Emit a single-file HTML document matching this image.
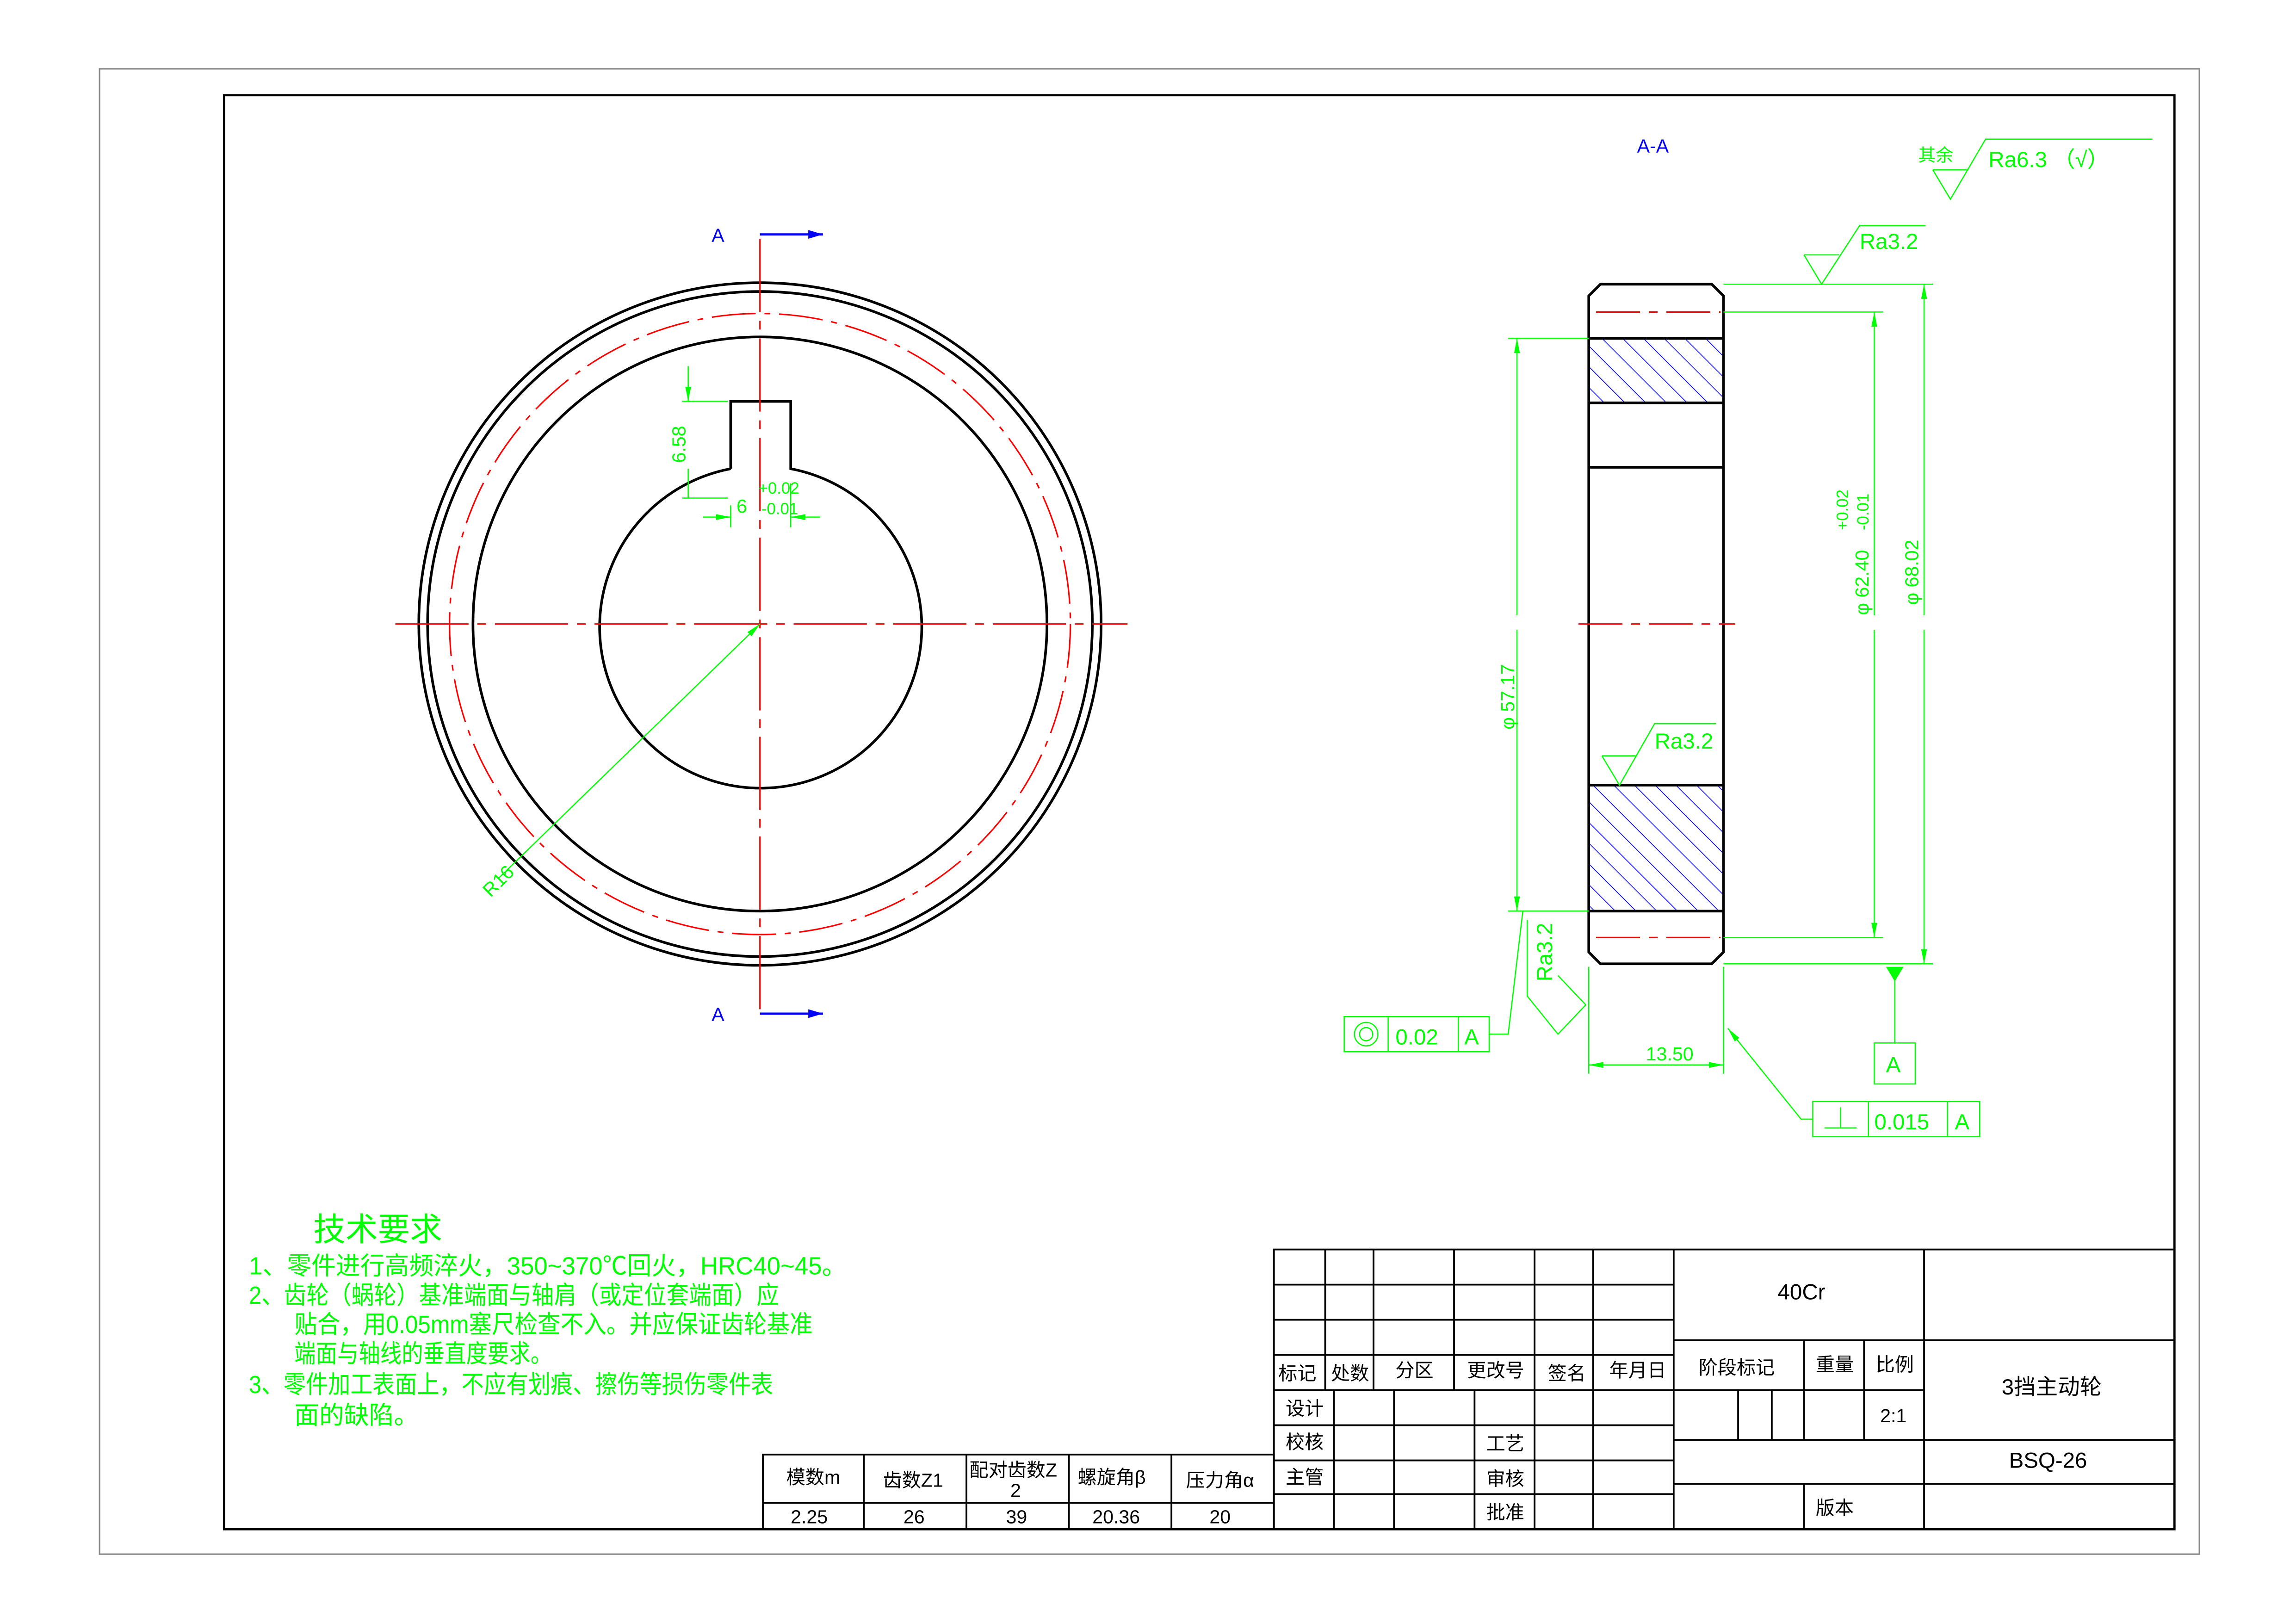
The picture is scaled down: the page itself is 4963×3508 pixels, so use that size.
<!DOCTYPE html>
<html><head><meta charset="utf-8"><style>
html,body{margin:0;padding:0;background:#fff}
svg{display:block}
text{font-family:"Liberation Sans","Noto Sans CJK SC",sans-serif}
</style></head><body>
<svg width="4963" height="3508" viewBox="0 0 1568 1108" preserveAspectRatio="none" xmlns="http://www.w3.org/2000/svg">
<defs>
<pattern id="h" width="10" height="10" patternUnits="userSpaceOnUse" patternTransform="rotate(-45)">
<line x1="0" y1="0" x2="0" y2="10" stroke="#0000ff" stroke-width="1"/></pattern>
<marker id="ab" markerWidth="10" markerHeight="6" refX="10" refY="3" orient="auto" markerUnits="userSpaceOnUse"><path d="M0,0L10,3L0,6z" fill="#0000ff"/></marker>
<marker id="ag" markerWidth="10" markerHeight="4" refX="10" refY="2" orient="auto" markerUnits="userSpaceOnUse"><path d="M0,0L10,2L0,4z" fill="#00ff00"/></marker>
<marker id="ags" markerWidth="10" markerHeight="4" refX="0" refY="2" orient="auto" markerUnits="userSpaceOnUse"><path d="M10,0L0,2L10,4z" fill="#00ff00"/></marker>
</defs>
<rect x="68" y="47" width="1434" height="1014" fill="none" stroke="#888" stroke-width="1"/>
<rect x="153" y="65" width="1332" height="979" fill="none" stroke="#000" stroke-width="1.5"/>

<g fill="none" stroke="#000" stroke-width="1.8">
<circle cx="519" cy="426" r="233"/>
<circle cx="519" cy="426" r="227"/>
<circle cx="519" cy="426" r="196"/>
<path d="M499,320 L499,274 L540,274 L540,320 A110,110 0 1 1 499,320"/>
</g>
<circle cx="519" cy="426" r="212" fill="none" stroke="#ff0000" stroke-width="1" stroke-dasharray="30,6,4,6"/>
<g stroke="#ff0000" stroke-width="1" stroke-dasharray="50,6,6,6">
<line x1="270" y1="426" x2="770" y2="426"/>
<line x1="519" y1="163" x2="519" y2="690"/>
</g>
<g stroke="#0000ff" stroke-width="1.5">
<line x1="519" y1="160" x2="562" y2="160" marker-end="url(#ab)"/>
<line x1="519" y1="692" x2="562" y2="692" marker-end="url(#ab)"/>
</g>
<text x="486" y="165" fill="#0000ff" font-size="13">A</text>
<text x="486" y="697" fill="#0000ff" font-size="13">A</text>
<g stroke="#00ff00" stroke-width="0.8" fill="none">
<line x1="519" y1="426" x2="340" y2="600" marker-start="url(#ags)"/>
<line x1="466" y1="274" x2="497" y2="274"/>
<line x1="466" y1="340" x2="497" y2="340"/>
<line x1="470" y1="250" x2="470" y2="274" marker-end="url(#ag)"/>
<line x1="470" y1="340" x2="470" y2="320"/>
<line x1="499" y1="345" x2="499" y2="360"/>
<line x1="540" y1="330" x2="540" y2="360"/>
<line x1="480" y1="353" x2="499" y2="353" marker-end="url(#ag)"/>
<line x1="560" y1="353" x2="540" y2="353" marker-end="url(#ag)"/>
</g>
<g fill="#00ff00" font-size="13">
<text transform="translate(335,613) rotate(-45)">R16</text>
<text transform="translate(468,316) rotate(-90)">6.58</text>
<text x="503" y="350">6</text>
<text x="518" y="337" font-size="11">+0.02</text>
<text x="520" y="351" font-size="11">-0.01</text>
</g>

<text x="1118" y="104" fill="#0000ff" font-size="13">A-A</text>
<rect x="1085" y="231" width="92" height="44" fill="url(#h)"/>
<rect x="1085" y="536" width="92" height="86" fill="url(#h)"/>
<g fill="none" stroke="#000" stroke-width="1.8">
<path d="M1093,194 L1169,194 L1177,202 L1177,650 L1169,658 L1093,658 L1085,650 L1085,202 Z"/>
<line x1="1085" y1="231" x2="1177" y2="231"/><line x1="1085" y1="275" x2="1177" y2="275"/>
<line x1="1085" y1="319" x2="1177" y2="319"/><line x1="1085" y1="536" x2="1177" y2="536"/>
<line x1="1085" y1="622" x2="1177" y2="622"/>
</g>
<g stroke="#ff0000" stroke-width="1" stroke-dasharray="30,6,6,6">
<line x1="1078" y1="426" x2="1185" y2="426"/>
<line x1="1090" y1="213" x2="1175" y2="213"/>
<line x1="1090" y1="640" x2="1175" y2="640"/>
</g>
<g stroke="#00ff00" stroke-width="0.8" fill="none">
<line x1="1030" y1="231" x2="1085" y2="231"/><line x1="1030" y1="622" x2="1085" y2="622"/>
<line x1="1036" y1="420" x2="1036" y2="231" marker-end="url(#ag)"/><line x1="1036" y1="430" x2="1036" y2="622" marker-end="url(#ag)"/>
<line x1="1177" y1="213" x2="1286" y2="213"/><line x1="1177" y1="640" x2="1286" y2="640"/>
<line x1="1280" y1="420" x2="1280" y2="213" marker-end="url(#ag)"/><line x1="1280" y1="430" x2="1280" y2="640" marker-end="url(#ag)"/>
<line x1="1177" y1="194" x2="1320" y2="194"/><line x1="1177" y1="658" x2="1320" y2="658"/>
<line x1="1314" y1="420" x2="1314" y2="194" marker-end="url(#ag)"/><line x1="1314" y1="430" x2="1314" y2="658" marker-end="url(#ag)"/>
<line x1="1085" y1="660" x2="1085" y2="733"/><line x1="1177" y1="660" x2="1177" y2="733"/>
<line x1="1130" y1="727" x2="1085" y2="727" marker-end="url(#ag)"/><line x1="1130" y1="727" x2="1177" y2="727" marker-end="url(#ag)"/>
<path d="M1232,174 L1244,194 L1270,154 L1315,154 M1232,174 L1256,174"/>
<path d="M1094,516 L1106,536 L1130,494 L1172,494 M1094,516 L1118,516"/>
<path d="M1320,116 L1332,136 L1356,95 L1470,95 M1320,116 L1344,116"/>
<path d="M1083,686 L1064,706 L1043,680 L1043,628 M1083,686 L1064,666 M1043,680 L1064,706"/>
<rect x="918" y="694" width="99" height="24"/><line x1="948" y1="694" x2="948" y2="718"/><line x1="996" y1="694" x2="996" y2="718"/>
<circle cx="933" cy="706" r="8"/><circle cx="933" cy="706" r="4.5"/>
<path d="M1017,706 L1030,706 L1040,622"/>
<rect x="1238" y="752" width="114" height="24"/><line x1="1276" y1="752" x2="1276" y2="776"/><line x1="1330" y1="752" x2="1330" y2="776"/>
<path d="M1246,770 L1268,770 M1257,770 L1257,756"/>
<path d="M1238,764 L1230,764 L1180,702" marker-end="url(#ag)"/>
<rect x="1280" y="712" width="28" height="28"/><line x1="1294" y1="712" x2="1294" y2="662"/>
</g>
<path d="M1288,660 L1300,660 L1294,670 Z" fill="#00ff00"/>
<g fill="#00ff00" font-size="15">
<text x="1270" y="170">Ra3.2</text>
<text x="1130" y="511">Ra3.2</text>
<text x="1358" y="114">Ra6.3 （√）</text>
<text x="1310" y="110" font-size="12">其余</text>
<text transform="translate(1060,670) rotate(-90)">Ra3.2</text>
<text transform="translate(1034,498) rotate(-90)" font-size="13">φ 57.17</text>
<text transform="translate(1276,420) rotate(-90)" font-size="13">φ 62.40</text>
<text transform="translate(1262,362) rotate(-90)" font-size="11">+0.02</text>
<text transform="translate(1276,362) rotate(-90)" font-size="11">-0.01</text>
<text transform="translate(1310,413) rotate(-90)" font-size="13">φ 68.02</text>
<text x="1124" y="724" font-size="13">13.50</text>
<text x="953" y="713">0.02</text><text x="1000" y="713">A</text>
<text x="1280" y="771">0.015</text><text x="1335" y="771">A</text>
<text x="1288" y="732">A</text>
</g>

<g fill="#00ff00" font-size="17">
<text x="214" y="847" font-size="22">技术要求</text>
<text x="170" y="870" textLength="408" lengthAdjust="spacingAndGlyphs">1、零件进行高频淬火，350~370℃回火，HRC40~45。</text>
<text x="170" y="890" textLength="362" lengthAdjust="spacingAndGlyphs">2、齿轮（蜗轮）基准端面与轴肩（或定位套端面）应</text>
<text x="201" y="910" textLength="354" lengthAdjust="spacingAndGlyphs">贴合，用0.05mm塞尺检查不入。并应保证齿轮基准</text>
<text x="201" y="930" textLength="176" lengthAdjust="spacingAndGlyphs">端面与轴线的垂直度要求。</text>
<text x="170" y="951" textLength="358" lengthAdjust="spacingAndGlyphs">3、零件加工表面上，不应有划痕、擦伤等损伤零件表</text>
<text x="201" y="972">面的缺陷。</text>
</g>

<g fill="none" stroke="#000" stroke-width="1.2">
<rect x="521" y="993" width="349" height="51"/>
<line x1="521" y1="1026" x2="870" y2="1026"/>
<line x1="590" y1="993" x2="590" y2="1044"/><line x1="660" y1="993" x2="660" y2="1044"/>
<line x1="730" y1="993" x2="730" y2="1044"/><line x1="800" y1="993" x2="800" y2="1044"/>
</g>
<g font-size="13" fill="#000">
<text x="537" y="1013">模数m</text><text x="603" y="1015">齿数Z1</text><text x="662" y="1008">配对齿数Z</text><text x="690" y="1022">2</text>
<text x="736" y="1013">螺旋角β</text><text x="810" y="1015">压力角α</text>
<text x="540" y="1040">2.25</text><text x="617" y="1040">26</text><text x="687" y="1040">39</text><text x="746" y="1040">20.36</text><text x="826" y="1040">20</text>
</g>

<g fill="none" stroke="#000" stroke-width="1.2">
<rect x="870" y="853" width="615" height="191"/>
<line x1="1143" y1="853" x2="1143" y2="1044"/>
<line x1="870" y1="877" x2="1143" y2="877"/><line x1="870" y1="901" x2="1143" y2="901"/>
<line x1="870" y1="925" x2="1143" y2="925"/><line x1="870" y1="949" x2="1314" y2="949"/>
<line x1="870" y1="973" x2="1143" y2="973"/><line x1="870" y1="997" x2="1143" y2="997"/>
<line x1="870" y1="1020" x2="1143" y2="1020"/>
<line x1="905" y1="853" x2="905" y2="949"/><line x1="938" y1="853" x2="938" y2="949"/>
<line x1="993" y1="853" x2="993" y2="949"/><line x1="1048" y1="853" x2="1048" y2="949"/>
<line x1="1088" y1="853" x2="1088" y2="949"/>
<line x1="911" y1="949" x2="911" y2="1044"/><line x1="952" y1="949" x2="952" y2="1044"/>
<line x1="1007" y1="949" x2="1007" y2="1044"/><line x1="1048" y1="949" x2="1048" y2="1044"/>
<line x1="1088" y1="949" x2="1088" y2="1044"/>
<line x1="1143" y1="915" x2="1485" y2="915"/><line x1="1314" y1="853" x2="1314" y2="1044"/>
<line x1="1143" y1="983" x2="1485" y2="983"/><line x1="1143" y1="1013" x2="1485" y2="1013"/>
<line x1="1232" y1="915" x2="1232" y2="983"/><line x1="1273" y1="915" x2="1273" y2="983"/>
<line x1="1187" y1="949" x2="1187" y2="983"/><line x1="1210" y1="949" x2="1210" y2="983"/>
<line x1="1232" y1="1013" x2="1232" y2="1044"/>
</g>
<g font-size="13" fill="#000">
<text x="873" y="942">标记</text><text x="909" y="942">处数</text><text x="953" y="940">分区</text>
<text x="1002" y="940">更改号</text><text x="1057" y="942">签名</text><text x="1099" y="940">年月日</text>
<text x="878" y="966">设计</text><text x="878" y="989">校核</text><text x="878" y="1013">主管</text>
<text x="1015" y="990">工艺</text><text x="1015" y="1014">审核</text><text x="1015" y="1037">批准</text>
<text x="1160" y="938">阶段标记</text><text x="1240" y="936">重量</text><text x="1281" y="936">比例</text>
<text x="1284" y="971">2:1</text><text x="1240" y="1034">版本</text>
<text x="1214" y="887" font-size="15">40Cr</text>
<text x="1367" y="952" font-size="15">3挡主动轮</text>
<text x="1372" y="1002" font-size="15">BSQ-26</text>
</g>
</svg>
</body></html>
